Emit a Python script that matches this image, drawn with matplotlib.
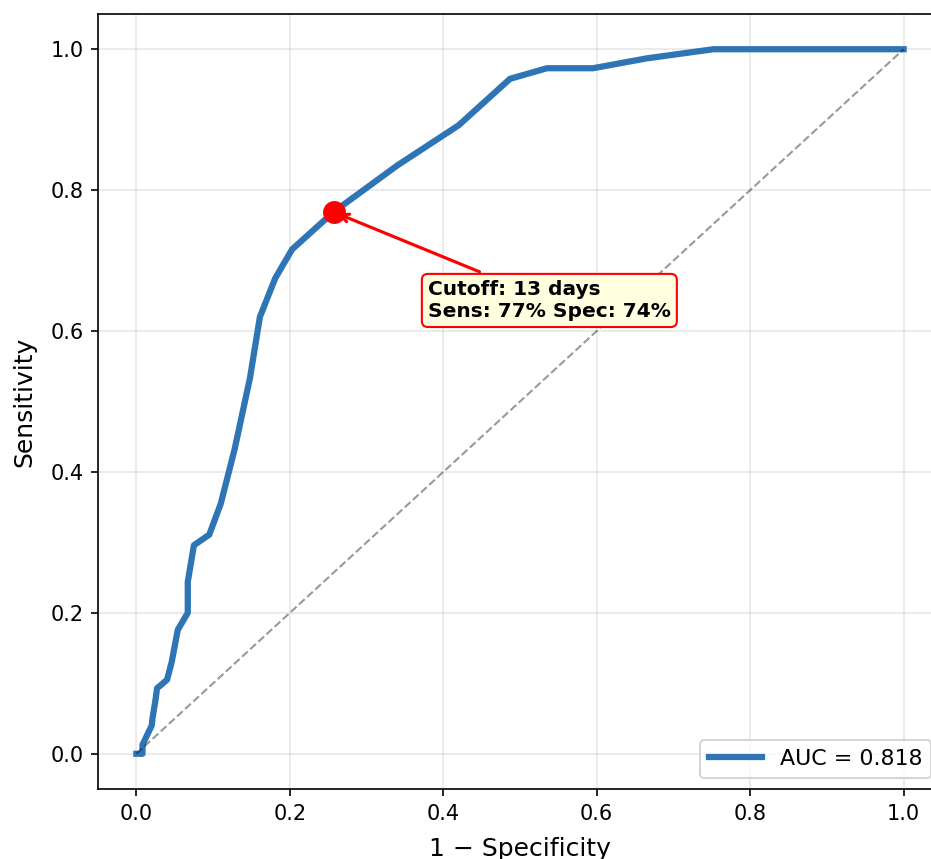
import matplotlib
matplotlib.use("Agg")
import matplotlib.pyplot as plt

fpr = [0, 0.008, 0.008, 0.02, 0.021, 0.025, 0.027, 0.04, 0.046, 0.054, 0.067, 0.067,
       0.075, 0.095, 0.11, 0.128, 0.148, 0.161, 0.181, 0.203, 0.257, 0.34, 0.42,
       0.487, 0.535, 0.595, 0.665, 0.752, 1.0]
tpr = [0, 0, 0.013, 0.04, 0.05, 0.077, 0.093, 0.105, 0.13, 0.176, 0.2, 0.244,
       0.296, 0.311, 0.355, 0.432, 0.533, 0.62, 0.675, 0.716, 0.769, 0.835, 0.892,
       0.958, 0.973, 0.973, 0.987, 1.0, 1.0]
auc_label = "AUC = 0.818"
cut_fpr, cut_tpr = 0.257, 0.769
cut_text = "Cutoff: 13 days\nSens: 77% Spec: 74%"

fig = plt.figure(figsize=(931/150, 859/150), dpi=150)
ax = fig.add_axes([98/931, 70/859, 844/931, 775/859])

ax.plot(fpr, tpr, color="#2E75B6", lw=3, label=auc_label)
ax.plot([0, 1], [0, 1], "k--", lw=1, alpha=0.4)
ax.plot([cut_fpr], [cut_tpr], "o", color="red", markersize=10, zorder=5)
ax.annotate(cut_text, xy=(cut_fpr, cut_tpr), xytext=(0.38, 0.62),
            fontsize=9.7, fontweight="bold",
            bbox=dict(boxstyle="round,pad=0.3", facecolor="lightyellow", edgecolor="red"),
            arrowprops=dict(arrowstyle="->", color="red", lw=1.5))

ax.set_xlim(-0.05, 1.05)
ax.set_ylim(-0.05, 1.05)
ax.set_xlabel("1 − Specificity", fontsize=12, labelpad=6.5)
ax.set_ylabel("Sensitivity", fontsize=12, labelpad=6.5)
ax.grid(True, alpha=0.3)
ax.spines["right"].set_visible(False)
ax.legend(loc="lower right", fontsize=10.6, handlelength=2.4)

fig.savefig("out.png", dpi=150)
